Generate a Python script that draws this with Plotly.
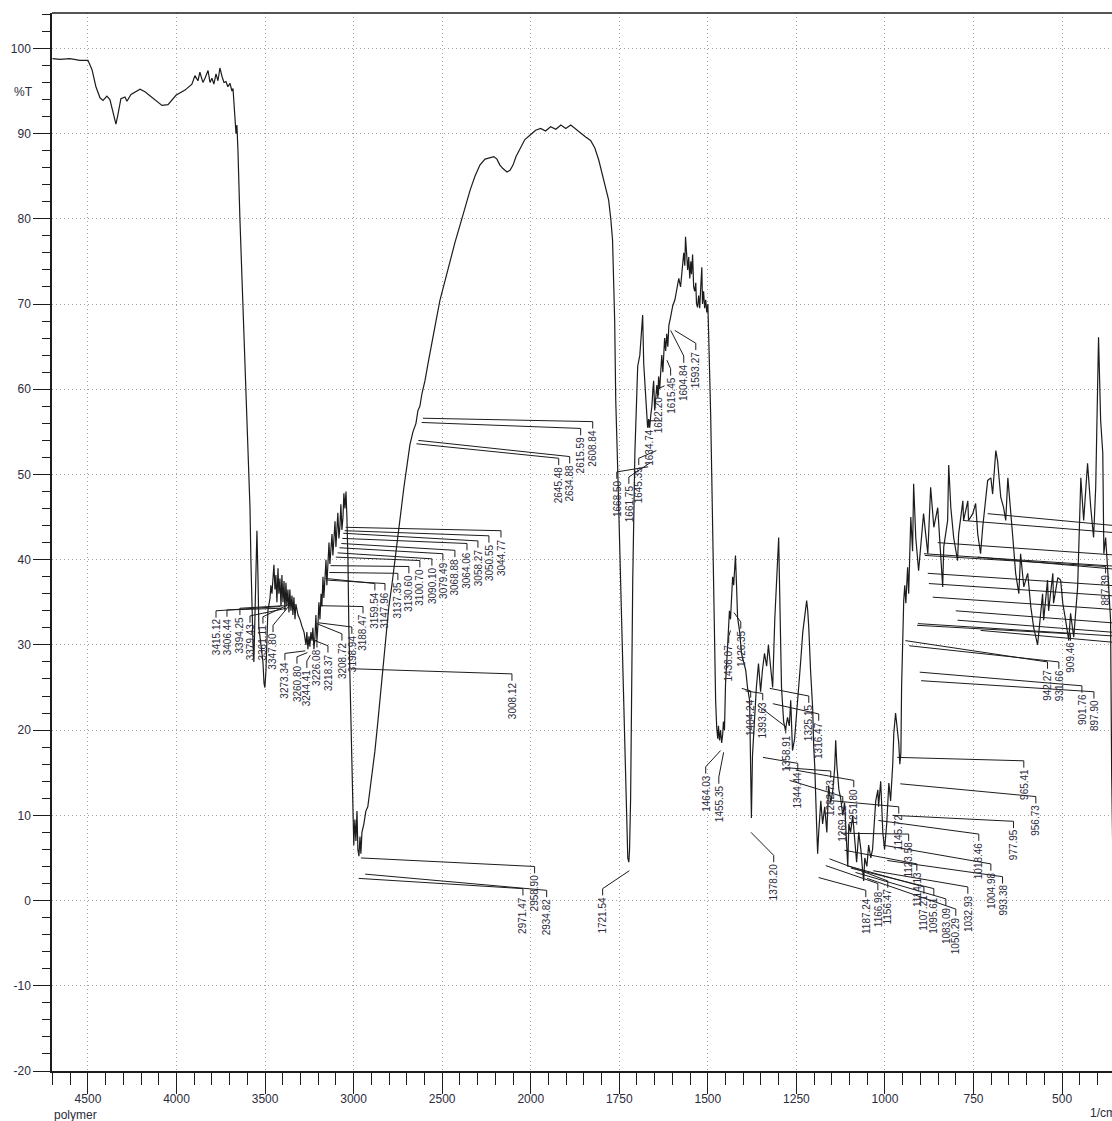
import numpy as np
import plotly.graph_objects as go

# ---------------- spectrum (wavenumber 1/cm, %T) ----------------
wavenumber = [
    4700, 4658, 4602, 4545, 4500, 4477, 4455, 4432, 4415, 4393, 4376, 4359, 4342, 4331, 4314, 4291, 4280, 4257,
    4206, 4178, 4122, 4082, 4048, 4026, 4003, 3952, 3913, 3896, 3879, 3868, 3851, 3839, 3822, 3811, 3800, 3789,
    3777, 3766, 3755, 3743, 3732, 3721, 3710, 3698, 3687, 3681, 3670, 3664, 3659, 3653, 3642, 3625, 3608, 3597,
    3585, 3580, 3574, 3568, 3563, 3557, 3551, 3546, 3540, 3535, 3523, 3512, 3506, 3501, 3495, 3489, 3484, 3472,
    3467, 3461, 3456, 3450, 3444, 3439, 3433, 3427, 3422, 3416, 3410, 3405, 3399, 3393, 3388, 3382, 3377, 3371,
    3365, 3360, 3354, 3348, 3343, 3337, 3331, 3326, 3314, 3303, 3292, 3280, 3269, 3264, 3258, 3252, 3247, 3241,
    3235, 3230, 3224, 3218, 3213, 3207, 3201, 3196, 3190, 3184, 3179, 3173, 3168, 3162, 3156, 3151, 3145, 3139,
    3134, 3128, 3122, 3117, 3111, 3105, 3100, 3094, 3089, 3083, 3077, 3072, 3066, 3060, 3055, 3049, 3043, 3038,
    3032, 3027, 3021, 3015, 3010, 3004, 2999, 2993, 2987, 2981, 2976, 2970, 2964, 2959, 2953, 2942, 2931, 2920,
    2908, 2897, 2880, 2863, 2851, 2835, 2818, 2801, 2784, 2767, 2750, 2733, 2716, 2699, 2682, 2665, 2648, 2637,
    2626, 2614, 2597, 2580, 2558, 2535, 2513, 2484, 2456, 2428, 2400, 2371, 2343, 2315, 2287, 2258, 2230, 2208,
    2191, 2174, 2157, 2134, 2117, 2100, 2083, 2061, 2033, 2000, 1986, 1972, 1958, 1944, 1929, 1915, 1901, 1887,
    1873, 1859, 1845, 1831, 1819, 1808, 1800, 1791, 1785, 1780, 1774, 1769, 1763, 1760, 1754, 1746, 1740, 1735,
    1729, 1726, 1723, 1721, 1718, 1715, 1712, 1706, 1701, 1698, 1692, 1689, 1687, 1684, 1681, 1678, 1675, 1672,
    1670, 1667, 1664, 1661, 1658, 1655, 1653, 1650, 1647, 1644, 1641, 1639, 1636, 1633, 1630, 1627, 1624, 1622,
    1619, 1616, 1613, 1610, 1605, 1599, 1593, 1588, 1582, 1577, 1571, 1568, 1565, 1563, 1560, 1557, 1554, 1551,
    1548, 1546, 1543, 1540, 1537, 1534, 1532, 1529, 1526, 1523, 1520, 1517, 1515, 1512, 1509, 1506, 1503, 1500,
    1498, 1495, 1492, 1489, 1486, 1483, 1481, 1478, 1475, 1472, 1470, 1467, 1464, 1461, 1458, 1456, 1453, 1450,
    1444, 1439, 1436, 1433, 1430, 1427, 1425, 1422, 1419, 1416, 1410, 1405, 1399, 1393, 1388, 1382, 1379, 1377,
    1374, 1368, 1363, 1357, 1351, 1346, 1340, 1334, 1329, 1323, 1317, 1311, 1306, 1300, 1298, 1295, 1292, 1286,
    1281, 1275, 1270, 1266, 1264, 1261, 1255, 1249, 1243, 1238, 1232, 1226, 1221, 1218, 1215, 1210, 1204, 1201,
    1198, 1193, 1190, 1187, 1181, 1176, 1170, 1164, 1159, 1153, 1147, 1142, 1139, 1136, 1130, 1125, 1119, 1114,
    1108, 1105, 1102, 1097, 1091, 1085, 1080, 1074, 1068, 1063, 1060, 1057, 1051, 1046, 1040, 1035, 1029, 1026,
    1020, 1018, 1012, 1006, 1001, 995, 989, 984, 978, 975, 970, 964, 961, 958, 955, 953, 950, 947,
    944, 941, 936, 933, 927, 922, 919, 916, 913, 905, 893, 891, 885, 879, 871, 862, 851, 845,
    837, 834, 823, 820, 814, 806, 795, 792, 780, 778, 766, 764, 752, 744, 738, 730, 724, 710,
    701, 696, 687, 682, 673, 665, 659, 653, 645, 639, 631, 622, 617, 608, 597, 588, 580, 569,
    566, 555, 552, 541, 538, 526, 524, 512, 504, 498, 490, 481, 476, 467, 456, 447, 439, 428,
    419, 411, 405, 397, 391, 385, 382, 377, 371, 363, 360, 357,
]
transmittance = [
    98.8, 98.7, 98.8, 98.6, 98.6, 97.5, 95.5, 94.2, 93.9, 94.4, 94.0, 92.4, 91.1, 92.2, 94.1, 94.3, 93.8, 94.6,
    95.2, 94.9, 93.9, 93.3, 93.4, 94.0, 94.5, 95.1, 95.8, 96.8, 96.2, 97.2, 96.0, 96.5, 97.4, 96.0, 96.5, 95.8,
    97.0, 96.2, 97.7, 96.7, 96.0, 96.1, 95.5, 95.9, 95.0, 95.3, 91.8, 90.0, 91.0, 88.0, 80.0, 70.0, 60.0, 52.0,
    46.0, 40.0, 33.0, 30.0, 28.0, 35.0, 42.0, 43.4, 38.0, 32.0, 30.0, 28.0, 25.5, 25.0, 27.0, 31.0, 34.0, 35.5,
    37.0, 36.0, 38.5, 39.4, 36.5, 38.2, 35.0, 39.0, 36.0, 37.8, 34.5, 38.2, 35.0, 37.5, 34.0, 37.3, 34.5, 36.5,
    33.8, 36.5, 34.0, 35.8, 33.5, 35.6, 33.0, 34.8, 33.5, 33.0, 32.2, 31.5, 30.0, 31.5, 29.5, 31.0, 29.8, 31.5,
    30.5, 32.0, 29.5, 31.0, 33.5, 30.5, 32.5, 35.0, 33.0, 36.0, 34.5, 38.0, 35.5, 38.5, 40.0, 37.0, 40.5, 42.0,
    39.5, 41.5, 43.0, 40.5, 42.5, 44.5, 41.5, 43.5, 45.5, 42.5, 44.0, 46.5, 43.5, 45.0, 47.8, 46.0, 48.0, 45.0,
    40.0, 32.0, 26.0, 20.0, 14.0, 9.0, 6.5, 9.5, 7.0, 10.5, 6.0, 5.2, 7.5, 5.5, 8.0, 9.0, 10.5, 11.0,
    13.0, 14.5, 17.5, 21.0, 23.5, 27.5, 31.0, 34.5, 37.0, 40.0, 42.5, 45.5, 48.5, 51.0, 53.5, 55.0, 56.0, 57.5,
    58.0, 59.5, 61.0, 63.0, 65.7, 68.0, 70.4, 72.8, 75.1, 77.2, 79.2, 81.3, 83.3, 85.0, 86.3, 87.0, 87.2, 87.3,
    87.0, 86.3, 85.9, 85.5, 85.7, 86.3, 87.3, 88.2, 89.3, 89.9, 90.4, 90.6, 90.3, 90.8, 90.5, 91.0, 90.6, 91.0,
    90.5, 90.0, 89.6, 89.2, 88.3, 86.9, 85.5, 83.9, 83.0, 82.2, 80.0, 77.5, 68.0, 58.7, 50.0, 37.6, 28.0, 18.0,
    9.0, 5.0, 4.5, 6.0, 12.0, 25.0, 37.6, 52.5, 60.0, 62.7, 64.0, 65.5, 67.5, 68.7, 63.0, 60.5, 58.0, 56.5,
    55.5, 56.5, 55.5, 57.0, 58.0, 60.0, 61.0, 57.5, 59.0, 60.5, 59.0, 61.5, 60.0, 62.5, 64.0, 62.0, 64.5, 66.0,
    64.5, 66.5, 65.0, 67.5, 68.5, 69.8, 70.5, 71.5, 73.0, 72.0, 74.5, 76.0, 74.5, 77.9, 76.0, 74.0, 75.5, 73.0,
    75.0, 73.5, 75.8, 72.0, 71.5, 72.5, 70.0, 69.6, 71.0, 69.5, 72.0, 74.3, 70.0, 71.5, 69.5, 70.5, 69.0, 70.0,
    67.0, 63.0, 57.0, 50.0, 43.0, 36.0, 29.0, 23.5, 20.3, 19.0, 20.5, 18.8, 20.0, 18.5, 19.5, 21.0, 20.0, 25.5,
    30.0, 34.0, 33.0, 36.5, 38.0, 37.0, 39.0, 40.5, 37.0, 33.2, 31.5, 29.0, 28.0, 27.0, 25.0, 23.5, 15.0, 9.7,
    17.0, 22.0, 25.0, 27.8, 24.5, 27.0, 29.0, 27.5, 30.0, 27.5, 25.0, 33.0, 38.0, 42.6, 38.0, 30.0, 25.0, 21.0,
    20.0, 21.5, 20.5, 23.5, 20.0, 17.6, 19.0, 22.0, 24.5, 28.0, 31.5, 34.0, 35.2, 34.0, 32.0, 27.0, 22.5, 18.0,
    15.6, 9.0, 5.5, 8.0, 11.7, 9.0, 11.0, 8.0, 13.5, 11.5, 13.0, 15.5, 18.8, 16.0, 13.0, 12.0, 10.0, 11.5,
    7.0, 4.0, 9.0, 8.0, 10.0, 7.0, 4.5, 8.0, 6.0, 3.5, 2.3, 5.0, 4.0, 6.5, 5.0, 6.0, 9.5, 11.7,
    13.0, 11.0, 14.0, 8.0, 6.0, 9.0, 13.8, 11.7, 16.0, 19.6, 22.0, 20.0, 18.5, 16.0, 17.3, 25.0, 31.3, 35.2,
    37.0, 34.9, 39.1, 36.0, 45.0, 41.0, 48.9, 45.0, 42.6, 38.7, 43.8, 45.4, 43.0, 40.7, 48.5, 43.8, 46.1, 42.6,
    36.8, 41.5, 44.6, 51.1, 46.1, 42.6, 39.9, 43.0, 46.9, 44.6, 46.9, 44.6, 45.4, 46.6, 43.0, 40.7, 43.8, 49.3,
    49.6, 47.7, 52.8, 51.6, 47.3, 46.1, 44.6, 49.6, 46.1, 42.6, 38.4, 36.0, 40.7, 36.8, 38.4, 34.4, 32.0, 30.0,
    31.3, 36.0, 32.9, 37.6, 34.0, 38.4, 34.9, 37.9, 37.6, 34.9, 32.9, 30.5, 33.7, 30.9, 36.8, 49.6, 44.6, 51.3,
    46.1, 42.6, 48.5, 66.1, 56.3, 52.5, 40.7, 42.6, 38.7, 32.9, 15.0, 5.9,
]

# ---------------- peak labels ----------------
peak_labels = [
    "3415.12", "3406.44", "3394.25", "3379.43", "3361.11", "3347.80",
    "3273.34", "3260.80", "3244.41", "3226.08", "3218.37", "3208.72", "3198.94", "3188.47",
    "3159.54", "3147.96", "3137.35", "3130.60", "3100.70", "3090.10", "3079.49", "3068.88",
    "3064.06", "3058.27", "3050.55", "3044.77", "3008.12",
    "2971.47", "2958.90", "2934.82",
    "2645.48", "2634.88", "2615.59", "2608.84",
    "1721.54", "1668.50", "1661.75", "1645.35", "1634.74", "1622.20", "1615.45", "1604.84", "1593.27",
    "1464.03", "1455.35", "1436.07", "1426.35", "1404.24", "1393.63", "1378.20", "1358.91", "1344.44",
    "1325.15", "1316.47", "1282.73", "1269.12", "1251.80",
    "1187.24", "1166.98", "1156.47", "1145.72", "1123.58", "1114.13", "1107.21", "1095.61", "1083.09",
    "1050.29", "1032.93", "1018.46", "1004.98", "993.38", "977.95", "965.41", "956.73",
    "942.27", "931.66", "909.46", "901.76", "897.90", "887.39",
]
# %T where each leader leaves the peak
leader_start_T = [
    34.5, 34.3, 34.6, 34.3, 34.8, 35.0,
    29.3, 29.1, 28.8, 30.5, 30.5, 32.5, 32.6, 34.6,
    37.8, 37.6, 38.5, 39.3, 40.3, 40.8, 41.4, 41.9,
    42.5, 43.1, 43.4, 43.8, 27.2,
    2.6, 5.0, 3.1,
    53.6, 54.0, 56.1, 56.6,
    3.5, 50.9, 51.4, 52.8, 56.3, 60.4, 63.4, 66.9, 66.9,
    17.6, 17.4, 31.7, 33.8, 24.9, 24.6, 8.0, 22.9, 16.8,
    24.9, 23.1, 15.6, 14.1, 15.3,
    2.7, 4.1, 4.9, 11.7, 7.9, 5.9, 4.1, 3.8, 3.3,
    2.6, 3.5, 9.4, 6.5, 4.7, 10.0, 16.8, 13.7,
    30.5, 29.9, 32.3, 26.8, 25.8, 40.5,
]
# wavenumber at which each label text stands
label_x = [
    3777, 3715, 3642, 3585, 3512, 3455,
    3388, 3320, 3264, 3207, 3145, 3066, 3010, 2947,
    2880, 2823, 2750, 2688, 2626, 2558, 2496, 2428,
    2360, 2298, 2236, 2168, 2106,
    2044, 1989, 1955,
    1921, 1890, 1859, 1825,
    1797, 1757, 1723, 1695, 1667, 1639, 1605, 1568, 1534,
    1506, 1469, 1441, 1407, 1379, 1345, 1314, 1280, 1246,
    1215, 1187, 1153, 1119, 1088,
    1054, 1020, 992, 961, 933, 910, 890, 862, 828,
    800, 766, 735, 701, 668, 637, 608, 574,
    541, 509, 476, 444, 410, 377,
]
# %T at the upper end of each label text
label_top_T = [
    33.2, 33.3, 33.5, 32.6, 32.5, 31.5,
    28.2, 27.8, 27.3, 29.7, 29.1, 30.5, 31.3, 33.7,
    36.4, 36.4, 37.6, 38.4, 39.1, 39.3, 39.9, 40.3,
    41.1, 41.4, 42.0, 42.6, 25.8,
    0.6, 3.2, 0.4,
    51.1, 51.3, 54.6, 55.4,
    0.6, 49.5, 48.9, 51.1, 55.5, 59.3, 61.6, 63.1, 64.6,
    14.9, 13.7, 30.2, 31.9, 23.8, 23.5, 4.5, 19.6, 15.3,
    23.2, 21.1, 14.4, 11.4, 13.3,
    0.4, 1.2, 1.5, 10.2, 7.0, 3.5, 0.8, 0.6, -0.6,
    -1.8, 0.8, 7.0, 3.5, 2.0, 8.5, 15.6, 11.4,
    27.2, 27.2, 30.5, 24.4, 23.7, 38.4,
]
# leaders whose labels lie beyond the right edge of the picture
offpage_peak_x = [907, 890, 879, 876, 865, 851, 800, 795, 780, 738, 730, 710]
offpage_peak_T = [32.5, 40.7, 38.4, 37.2, 35.6, 42.0, 34.0, 32.9, 44.6, 40.3, 31.7, 45.4]

x_tick_values = [4500, 4000, 3500, 3000, 2500, 2000, 1750, 1500, 1250, 1000, 750, 500]
y_tick_values = [-20, -10, 0, 10, 20, 30, 40, 50, 60, 70, 80, 90, 100]


def to_axis(w):
    """Spectrometer x scale: compressed above 2000 1/cm, expanded (x2) below."""
    w = np.asarray(w, dtype=float)
    return np.where(w >= 2000, w, 2 * w - 2000)


INK = "#1c1c1c"
TXT = "#2b2b3c"
GRID = "#a3a3a3"
FONT = "Liberation Sans, Arial, sans-serif"

fig = go.Figure()

fig.add_trace(go.Scatter(
    x=to_axis(wavenumber), y=transmittance, mode="lines",
    line=dict(color=INK, width=1.2), hoverinfo="skip", showlegend=False,
))

# leader lines
lx, ly = [], []
peak_x = [float(s) for s in peak_labels]
for px, sT, tx, tT in zip(peak_x, leader_start_T, label_x, label_top_T):
    a, b = to_axis([px, tx])
    lx += [a, b, b, None]
    ly += [sT, tT + 0.8, tT, None]
for px, sT in zip(offpage_peak_x, offpage_peak_T):
    a, b = to_axis([px, 300])
    lx += [a, b, None]
    ly += [sT, sT - 1.6, None]
fig.add_trace(go.Scatter(
    x=lx, y=ly, mode="lines", line=dict(color=INK, width=1),
    hoverinfo="skip", showlegend=False,
))

for s, tx, tT in zip(peak_labels, label_x, label_top_T):
    fig.add_annotation(
        x=float(to_axis(tx)), y=tT, text=s, showarrow=False, textangle=-90,
        xanchor="center", yanchor="top", borderpad=0,
        font=dict(family=FONT, size=10, color=TXT),
    )

fig.add_annotation(x=-0.0377, y=0.925, xref="paper", yref="paper", text="%T", showarrow=False,
                   xanchor="left", yanchor="middle", font=dict(family=FONT, size=12, color=TXT))
fig.add_annotation(x=0.0, y=-0.042, xref="paper", yref="paper", text="polymer", showarrow=False,
                   xanchor="left", yanchor="middle", font=dict(family=FONT, size=12, color=TXT))
fig.add_annotation(x=0.977, y=-0.0397, xref="paper", yref="paper", text="1/cm", showarrow=False,
                   xanchor="left", yanchor="middle", font=dict(family=FONT, size=12, color=TXT))

fig.add_shape(type="line", xref="paper", yref="paper", x0=0, x1=1, y0=1, y1=1,
              line=dict(color=INK, width=1.5))

x_left = 4703
x_right = -1282
fig.update_xaxes(
    range=[x_left, x_right],
    tickmode="array", tickvals=list(to_axis(x_tick_values)), ticktext=[str(v) for v in x_tick_values],
    ticks="outside", ticklen=21, tickwidth=1.3, tickcolor=INK, ticklabelstandoff=-5,
    showline=True, linecolor=INK, linewidth=1.5, mirror=False,
    showgrid=True, gridcolor=GRID, griddash="1px,3px", gridwidth=1,
    zeroline=False,
    tickfont=dict(family=FONT, size=12, color=TXT),
    minor=dict(tickmode="array", tickvals=list(np.arange(-1200, 4701, 100)),
               ticks="outside", ticklen=12, tickcolor=INK, tickwidth=1.3, showgrid=False),
)
fig.update_yaxes(
    range=[-20, 104.15],
    tickmode="array", tickvals=y_tick_values, ticktext=[str(v) for v in y_tick_values],
    ticks="outside", ticklen=17, tickwidth=1.3, tickcolor=INK,
    showline=True, linecolor=INK, linewidth=1.5, mirror=False,
    showgrid=True, gridcolor=GRID, griddash="1px,3px", gridwidth=1,
    zeroline=False,
    tickfont=dict(family=FONT, size=12, color=TXT),
    minor=dict(tickmode="array", tickvals=list(range(-20, 105, 2)),
               ticks="outside", ticklen=8, tickcolor=INK, tickwidth=1.3, showgrid=False),
)

fig.update_layout(
    width=1112, height=1121,
    margin=dict(l=52, r=0, t=13, b=50),
    paper_bgcolor="white", plot_bgcolor="white",
    showlegend=False,
)

fig.write_html("out.html")
